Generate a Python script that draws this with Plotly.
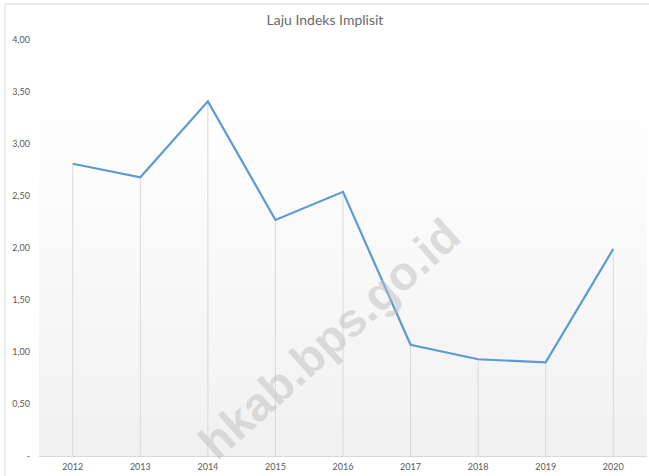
import plotly.graph_objects as go

years = ["2012", "2013", "2014", "2015", "2016", "2017", "2018", "2019", "2020"]
laju = [2.81, 2.68, 3.41, 2.27, 2.54, 1.07, 0.93, 0.90, 1.99]
y_tickvals = [0, 0.5, 1.0, 1.5, 2.0, 2.5, 3.0, 3.5, 4.0]
y_ticktext = ["-", "0,50", "1,00", "1,50", "2,00", "2,50", "3,00", "3,50", "4,00"]

W, H = 649, 476
ML, MR, MT, MB = 39, 2, 40, 20
FONT = "Lato, 'Open Sans', sans-serif"
TXT = "#595959"

n = len(years)
fig = go.Figure()

# gradient plot-area background (spans the axis range)
fig.add_trace(go.Scatter(
    x=[-0.5, n - 0.5, n - 0.5, -0.5, -0.5],
    y=[0, 0, 4.1, 4.1, 0],
    fill="toself", mode="none", hoverinfo="skip", showlegend=False,
    fillgradient=dict(type="vertical",
                      colorscale=[[0, "#f1f1f1"], [0.85, "#ffffff"], [1, "#ffffff"]]),
))

# drop lines
fig.add_trace(go.Scatter(
    x=list(range(n)), y=laju, mode="markers",
    marker=dict(size=0.1, color="rgba(0,0,0,0)"),
    error_y=dict(type="data", symmetric=False, array=[0] * n, arrayminus=laju,
                 width=0, thickness=1, color="#d9d9d9"),
    hoverinfo="skip", showlegend=False,
))

# main line
fig.add_trace(go.Scatter(
    x=list(range(n)), y=laju, mode="lines",
    line=dict(color="#5b9bd5", width=2.2),
    showlegend=False, name="Laju Indeks Implisit",
))

plot_w = W - ML - MR
plot_h = H - MT - MB
def px_x(p):
    return (p - ML) / plot_w
def px_y(p):
    return (H - MB - p) / plot_h

# chart border (top and left visible)
fig.add_shape(type="rect", xref="paper", yref="paper",
              x0=px_x(5), x1=px_x(W + 10), y0=px_y(H + 10), y1=px_y(4),
              line=dict(color="#d9d9d9", width=1), fillcolor="rgba(0,0,0,0)", layer="below")

# watermark
fig.add_annotation(
    text="<b>hkab.bps.go.id</b>", xref="paper", yref="paper",
    x=px_x(329), y=px_y(338), xanchor="center", yanchor="middle",
    showarrow=False, textangle=-42,
    font=dict(family="Liberation Sans, Arial, sans-serif", size=47, color="rgba(190,190,190,0.5)"),
)

fig.update_layout(
    width=W, height=H,
    margin=dict(l=ML, r=MR, t=MT, b=MB),
    paper_bgcolor="white", plot_bgcolor="rgba(0,0,0,0)",
    title=dict(text="Laju Indeks Implisit", x=325 / W, xanchor="center",
               y=1 - 20 / H, yanchor="middle",
               font=dict(family=FONT, size=14, color="#6a6a6a")),
    font=dict(family=FONT, size=9, color=TXT),
    xaxis=dict(range=[-0.5, n - 0.5], tickmode="array", tickvals=list(range(n)), ticktext=years,
               showgrid=False, zeroline=False, showline=True, linecolor="#d9d9d9", linewidth=1,
               ticks="", ticklabelstandoff=2, tickfont=dict(size=9, color=TXT), fixedrange=True),
    yaxis=dict(range=[0, 4], tickmode="array", tickvals=y_tickvals, ticktext=y_ticktext,
               showgrid=False, zeroline=False, showline=False, ticks="",
               ticklabelstandoff=8, tickfont=dict(size=9, color=TXT), fixedrange=True),
)

fig.write_html("out.html", config={"displayModeBar": False},
               post_script="document.body.style.margin='0';document.body.style.overflow='hidden';")
